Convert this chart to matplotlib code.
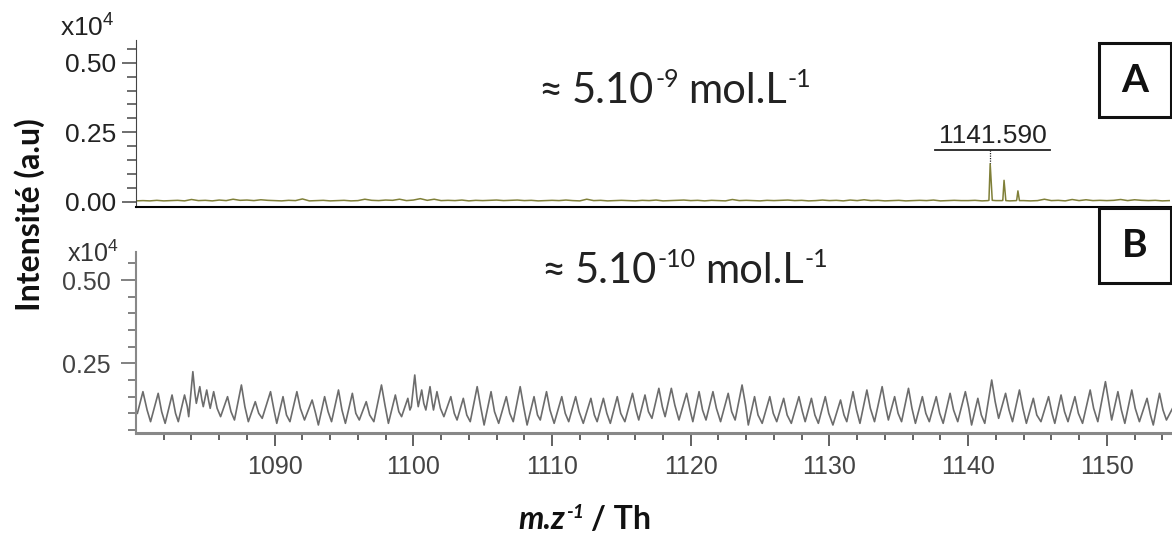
import numpy as np
import matplotlib.pyplot as plt
from matplotlib.patches import Rectangle
from matplotlib.ticker import MultipleLocator, FormatStrFormatter

plt.rcParams["font.family"] = ["Liberation Sans", "DejaVu Sans"]
plt.rcParams["mathtext.fontset"] = "custom"
plt.rcParams["mathtext.rm"] = "Liberation Sans"

# -------------------------------
# Data (intensity in units of 1e4)
# -------------------------------
# spectrum A: baseline every 0.5 Th from 1080.0
base_a_start = 1080.0
base_a_step = 0.5
base_a = [
    0.003, 0.004, 0.003, 0.005, 0.003, 0.004, 0.005, 0.003, 0.008, 0.004,
    0.005, 0.003, 0.006, 0.004, 0.009, 0.005, 0.006, 0.004, 0.007, 0.005,
    0.004, 0.003, 0.005, 0.004, 0.010, 0.003, 0.004, 0.005, 0.003, 0.004,
    0.005, 0.003, 0.004, 0.009, 0.005, 0.004, 0.006, 0.005, 0.009, 0.004,
    0.006, 0.011, 0.005, 0.009, 0.004, 0.005, 0.004, 0.006, 0.003, 0.005,
    0.004, 0.005, 0.006, 0.004, 0.005, 0.006, 0.004, 0.005, 0.003, 0.004,
    0.005, 0.004, 0.006, 0.004, 0.003, 0.009, 0.004, 0.005, 0.003, 0.004,
    0.005, 0.004, 0.003, 0.005, 0.004, 0.006, 0.003, 0.004, 0.005, 0.006,
    0.004, 0.005, 0.003, 0.005, 0.004, 0.003, 0.008, 0.004, 0.005, 0.004,
    0.003, 0.005, 0.004, 0.005, 0.006, 0.004, 0.005, 0.003, 0.004, 0.006,
    0.004, 0.005, 0.003, 0.006, 0.004, 0.007, 0.004, 0.005, 0.003, 0.004,
    0.005, 0.003, 0.004, 0.005, 0.004, 0.006, 0.003, 0.004, 0.005, 0.004,
    0.004, 0.005, 0.003, 0.005, 0.004, 0.005, 0.003, 0.005, 0.004, 0.003,
    0.004, 0.009, 0.004, 0.005, 0.003, 0.008, 0.004, 0.007, 0.004, 0.005,
    0.004, 0.005, 0.008, 0.004, 0.007, 0.005, 0.004, 0.005, 0.003, 0.004,
]
# isotopic cluster of A
peak_a_mz = [1141.42, 1141.59, 1141.74, 1142.45, 1142.59, 1142.72,
             1143.47, 1143.59, 1143.70]
peak_a_int = [0.004, 0.137, 0.005, 0.004, 0.077, 0.004, 0.004, 0.039, 0.004]

# spectrum B: maxima, shoulders and minima of the noise
peak_b_mz = [
    1080.5, 1081.6, 1082.6, 1083.5, 1084.1, 1084.6, 1085.1, 1085.6, 1086.6, 1087.6,
    1088.6, 1089.7, 1090.6, 1091.6, 1092.7, 1093.6, 1094.6, 1095.6, 1096.6, 1097.7,
    1098.7, 1099.6, 1100.1, 1100.6, 1101.2, 1101.7, 1102.7, 1103.6, 1104.6, 1105.6,
    1106.7, 1107.7, 1108.7, 1109.6, 1110.7, 1111.7, 1112.8, 1113.7, 1114.7, 1115.8,
    1116.7, 1117.7, 1118.6, 1119.7, 1120.6, 1121.6, 1122.7, 1123.7, 1124.6, 1125.7,
    1126.7, 1127.8, 1128.7, 1129.7, 1130.8, 1131.7, 1132.7, 1133.8, 1134.7, 1135.7,
    1136.7, 1137.7, 1138.7, 1139.8, 1140.7, 1141.7, 1142.7, 1143.7, 1144.7, 1145.8,
    1146.7, 1147.7, 1148.8, 1149.9, 1150.8, 1151.8, 1152.9, 1153.8,
]
peak_b_int = [
    0.165, 0.160, 0.155, 0.155, 0.225, 0.180, 0.170, 0.165, 0.150, 0.185,
    0.135, 0.165, 0.150, 0.165, 0.140, 0.150, 0.170, 0.160, 0.135, 0.185,
    0.155, 0.145, 0.215, 0.170, 0.180, 0.165, 0.150, 0.145, 0.180, 0.165,
    0.150, 0.180, 0.150, 0.165, 0.150, 0.150, 0.145, 0.145, 0.150, 0.160,
    0.155, 0.175, 0.175, 0.160, 0.165, 0.165, 0.160, 0.185, 0.150, 0.150,
    0.145, 0.150, 0.145, 0.150, 0.140, 0.165, 0.170, 0.180, 0.150, 0.175,
    0.150, 0.150, 0.160, 0.165, 0.145, 0.200, 0.160, 0.170, 0.145, 0.150,
    0.155, 0.150, 0.170, 0.195, 0.165, 0.170, 0.145, 0.160,
]
shoulder_b_mz = [
    1080.8, 1081.85, 1082.85, 1083.7, 1084.25, 1084.75, 1085.25, 1085.85, 1086.85, 1087.85,
    1088.85, 1089.95, 1090.85, 1091.85, 1092.95, 1093.85, 1094.85, 1095.85, 1096.85, 1097.95,
    1098.95, 1099.75, 1100.25, 1100.75, 1101.35, 1101.95, 1102.95, 1103.85, 1104.85, 1105.85,
    1106.95, 1107.95, 1108.95, 1109.85, 1110.95, 1111.95, 1113.05, 1113.95, 1114.95, 1116.05,
    1116.95, 1117.95, 1118.85, 1119.95, 1120.85, 1121.85, 1122.95, 1123.95, 1124.85, 1125.95,
    1126.95, 1128.05, 1128.95, 1129.95, 1131.05, 1131.95, 1132.95, 1134.05, 1134.95, 1135.95,
    1136.95, 1137.95, 1138.95, 1140.05, 1140.95, 1141.95, 1142.95, 1143.95, 1144.95, 1146.05,
    1146.95, 1147.95, 1149.05, 1150.15, 1151.05, 1152.05, 1153.15, 1154.05,
]
shoulder_b_int = [
    0.110, 0.105, 0.100, 0.120, 0.160, 0.140, 0.135, 0.115, 0.105, 0.120,
    0.100, 0.110, 0.095, 0.115, 0.100, 0.105, 0.110, 0.100, 0.095, 0.125,
    0.105, 0.110, 0.150, 0.130, 0.135, 0.115, 0.100, 0.095, 0.120, 0.105,
    0.100, 0.120, 0.095, 0.110, 0.100, 0.105, 0.095, 0.100, 0.100, 0.110,
    0.105, 0.120, 0.125, 0.110, 0.110, 0.115, 0.105, 0.125, 0.095, 0.100,
    0.095, 0.105, 0.095, 0.100, 0.095, 0.110, 0.115, 0.120, 0.100, 0.115,
    0.100, 0.100, 0.110, 0.115, 0.095, 0.135, 0.110, 0.115, 0.095, 0.100,
    0.105, 0.100, 0.115, 0.130, 0.110, 0.115, 0.095, 0.110,
]
dip_b_mz = [
    1080.1, 1081.05, 1082.1, 1083.05, 1083.8, 1084.35, 1084.85, 1085.35, 1086.1, 1087.1,
    1088.1, 1089.1, 1090.15, 1091.1, 1092.15, 1093.15, 1094.1, 1095.1, 1096.1, 1097.15,
    1098.2, 1099.15, 1099.85, 1100.35, 1100.9, 1101.45, 1102.2, 1103.15, 1104.1, 1105.1,
    1106.15, 1107.2, 1108.2, 1109.15, 1110.15, 1111.2, 1112.25, 1113.25, 1114.2, 1115.25,
    1116.25, 1117.2, 1118.15, 1119.15, 1120.15, 1121.1, 1122.15, 1123.2, 1124.15, 1125.15,
    1126.2, 1127.25, 1128.25, 1129.2, 1130.25, 1131.25, 1132.2, 1133.25, 1134.25, 1135.2,
    1136.2, 1137.2, 1138.2, 1139.25, 1140.25, 1141.2, 1142.2, 1143.2, 1144.2, 1145.25,
    1146.25, 1147.2, 1148.25, 1149.35, 1150.35, 1151.3, 1152.35, 1153.35, 1154.3, 1154.8,
]
dip_b_int = [
    0.100, 0.075, 0.070, 0.075, 0.090, 0.130, 0.120, 0.115, 0.090, 0.080,
    0.075, 0.085, 0.070, 0.075, 0.080, 0.065, 0.075, 0.070, 0.080, 0.075,
    0.070, 0.090, 0.120, 0.120, 0.110, 0.110, 0.090, 0.080, 0.075, 0.065,
    0.070, 0.075, 0.065, 0.080, 0.070, 0.075, 0.070, 0.075, 0.070, 0.075,
    0.080, 0.085, 0.090, 0.080, 0.075, 0.080, 0.075, 0.080, 0.065, 0.070,
    0.075, 0.070, 0.075, 0.070, 0.065, 0.075, 0.070, 0.075, 0.080, 0.075,
    0.070, 0.075, 0.070, 0.075, 0.065, 0.070, 0.085, 0.075, 0.070, 0.075,
    0.070, 0.075, 0.070, 0.075, 0.080, 0.070, 0.075, 0.065, 0.080, 0.120,
]

x_major = [1090, 1100, 1110, 1120, 1130, 1140, 1150]
label_mz = 1141.590

# -------------------------------
# Build series
# -------------------------------
base_a_mz = base_a_start + base_a_step * np.arange(len(base_a))
mz_a = np.concatenate([base_a_mz, peak_a_mz])
int_a = np.concatenate([base_a, peak_a_int])
order = np.argsort(mz_a)
mz_a, int_a = mz_a[order], int_a[order]

mz_b = np.concatenate([peak_b_mz, shoulder_b_mz, dip_b_mz])
int_b = np.concatenate([peak_b_int, shoulder_b_int, dip_b_int])
order = np.argsort(mz_b)
mz_b, int_b = mz_b[order], int_b[order]

# -------------------------------
# Figure
# -------------------------------
W, H = 1172, 537
fig = plt.figure(figsize=(W / 100, H / 100), dpi=100)
renderer = fig.canvas.get_renderer()


def fx(px):
    return px / W


def fy(py):
    return 1 - py / H


def rich_text(cx, baseline, pieces, **common):
    """pieces: (text, fontsize, rise_px, gap_before_px, extra kwargs)"""
    arts, xs = [], []
    cur = 0.0
    for s, size, rise, gap, kw in pieces:
        cur += gap
        t = fig.text(0, fy(baseline - rise), s, fontsize=size, va="baseline",
                     ha="left", **common, **kw)
        xs.append(cur)
        cur += t.get_window_extent(renderer).width
        arts.append(t)
    x0 = cx - cur / 2
    for t, x in zip(arts, xs):
        t.set_x(fx(x0 + x))


xlim = (1080.0, 1154.7)

# panel A
ax_a = fig.add_axes([fx(136), fy(207), 1 - fx(136), fy(40) - fy(207)])
ax_a.plot(mz_a, int_a, color="#7f7f38", lw=1.1)
ax_a.set_xlim(*xlim)
ax_a.set_ylim(-0.019, 0.582)
ax_a.spines[["top", "right"]].set_visible(False)
ax_a.spines["left"].set_color("#444444")
ax_a.spines["bottom"].set_color("black")
ax_a.spines["bottom"].set_linewidth(1.5)
ax_a.set_xticks([])
ax_a.yaxis.set_major_locator(MultipleLocator(0.25))
ax_a.yaxis.set_minor_locator(MultipleLocator(0.05))
ax_a.yaxis.set_major_formatter(FormatStrFormatter("%.2f"))
ax_a.tick_params(axis="y", which="major", length=10, width=1.2, pad=4,
                 labelsize=19, colors="#555555", labelcolor="#222222")
ax_a.tick_params(axis="y", which="minor", length=6.5, width=1.2, colors="#555555")

# annotation for the monoisotopic peak
ax_a.plot([1137.6, 1145.9], [0.185, 0.185], color="#222222", lw=1.3)
ax_a.plot([label_mz, label_mz], [0.185, 0.14], color="#222222", lw=0.9, ls=(0, (1, 1)))
ax_a.text(1141.75, 0.195, f"{label_mz:.3f}", ha="center", va="bottom",
          fontsize=19, color="#222222")

# panel B
ax_b = fig.add_axes([fx(136), fy(433), 1 - fx(136), fy(252) - fy(433)])
ax_b.plot(mz_b, int_b, color="#5c5c5c", lw=1.2, alpha=0.9)
ax_b.set_xlim(*xlim)
ax_b.set_ylim(0.041, 0.584)
ax_b.spines[["top", "right"]].set_visible(False)
ax_b.spines["left"].set_color("#888888")
ax_b.spines["left"].set_linewidth(1.5)
ax_b.spines["bottom"].set_color("#888888")
ax_b.spines["bottom"].set_linewidth(2.2)
ax_b.set_yticks([0.25, 0.50])
ax_b.yaxis.set_minor_locator(MultipleLocator(0.05))
ax_b.yaxis.set_major_formatter(FormatStrFormatter("%.2f"))
ax_b.set_xticks(x_major)
ax_b.set_xticks([m for m in range(1082, 1155, 2) if m not in x_major], minor=True)
ax_b.xaxis.set_major_formatter(FormatStrFormatter("%d"))
ax_b.tick_params(axis="y", which="major", length=11, width=1.3, pad=7,
                 labelsize=18, colors="#777777", labelcolor="#444444")
ax_b.tick_params(axis="y", which="minor", length=6, width=1.3, colors="#777777")
ax_b.tick_params(axis="x", which="major", length=9, width=1.3, pad=7,
                 labelsize=18, colors="#555555", labelcolor="#444444")
ax_b.tick_params(axis="x", which="minor", length=5, width=1.3, colors="#555555")

# scale factors
fig.text(fx(60), fy(36), "x10$^{4}$", fontsize=19, color="#222222", va="baseline")
fig.text(fx(67), fy(262), "x10$^{4}$", fontsize=18, color="#333333", va="baseline")

# concentrations
lato = dict(family=["Lato", "DejaVu Sans"], color="#222222")
rich_text(675, 103, [("≈", 30, 0, 0, {}), ("5.10", 30, 0, 9, {}), ("-9", 18, 16, 1, {}),
                     ("mol.L", 30, 0, 9, {}), ("-1", 18, 16, 1, {})], **lato)
rich_text(685, 283, [("≈", 30, 0, 0, {}), ("5.10", 30, 0, 9, {}), ("-10", 18, 16, 1, {}),
                     ("mol.L", 30, 0, 9, {}), ("-1", 18, 16, 1, {})], **lato)

# panel letters
for letter, top, bottom in [("A", 43, 117), ("B", 208, 283)]:
    fig.add_artist(Rectangle((fx(1099), fy(bottom)), fx(1171) - fx(1099),
                             fy(top) - fy(bottom), transform=fig.transFigure,
                             fill=False, edgecolor="#111111", lw=2.2))
    fig.text(fx(1135), fy((top + bottom) / 2), letter, family=["Lato"],
             fontweight="bold", fontsize=28, ha="center", va="center", color="#111111")

# axis titles
fig.text(fx(30), fy(215), "Intensité (a.u)", family=["Lato", "DejaVu Sans"],
         fontweight="bold", fontsize=23, rotation=90, ha="center", va="center",
         color="#111111")
bi = dict(fontweight="bold", fontstyle="italic")
rich_text(585, 529, [("m.z", 23, 0, 0, bi), ("-1", 14, 11, 1, bi),
                     ("/ Th", 23, 0, 7, dict(fontweight="bold"))],
          family=["Lato"], color="#111111")

fig.savefig("out.png", dpi=100)
